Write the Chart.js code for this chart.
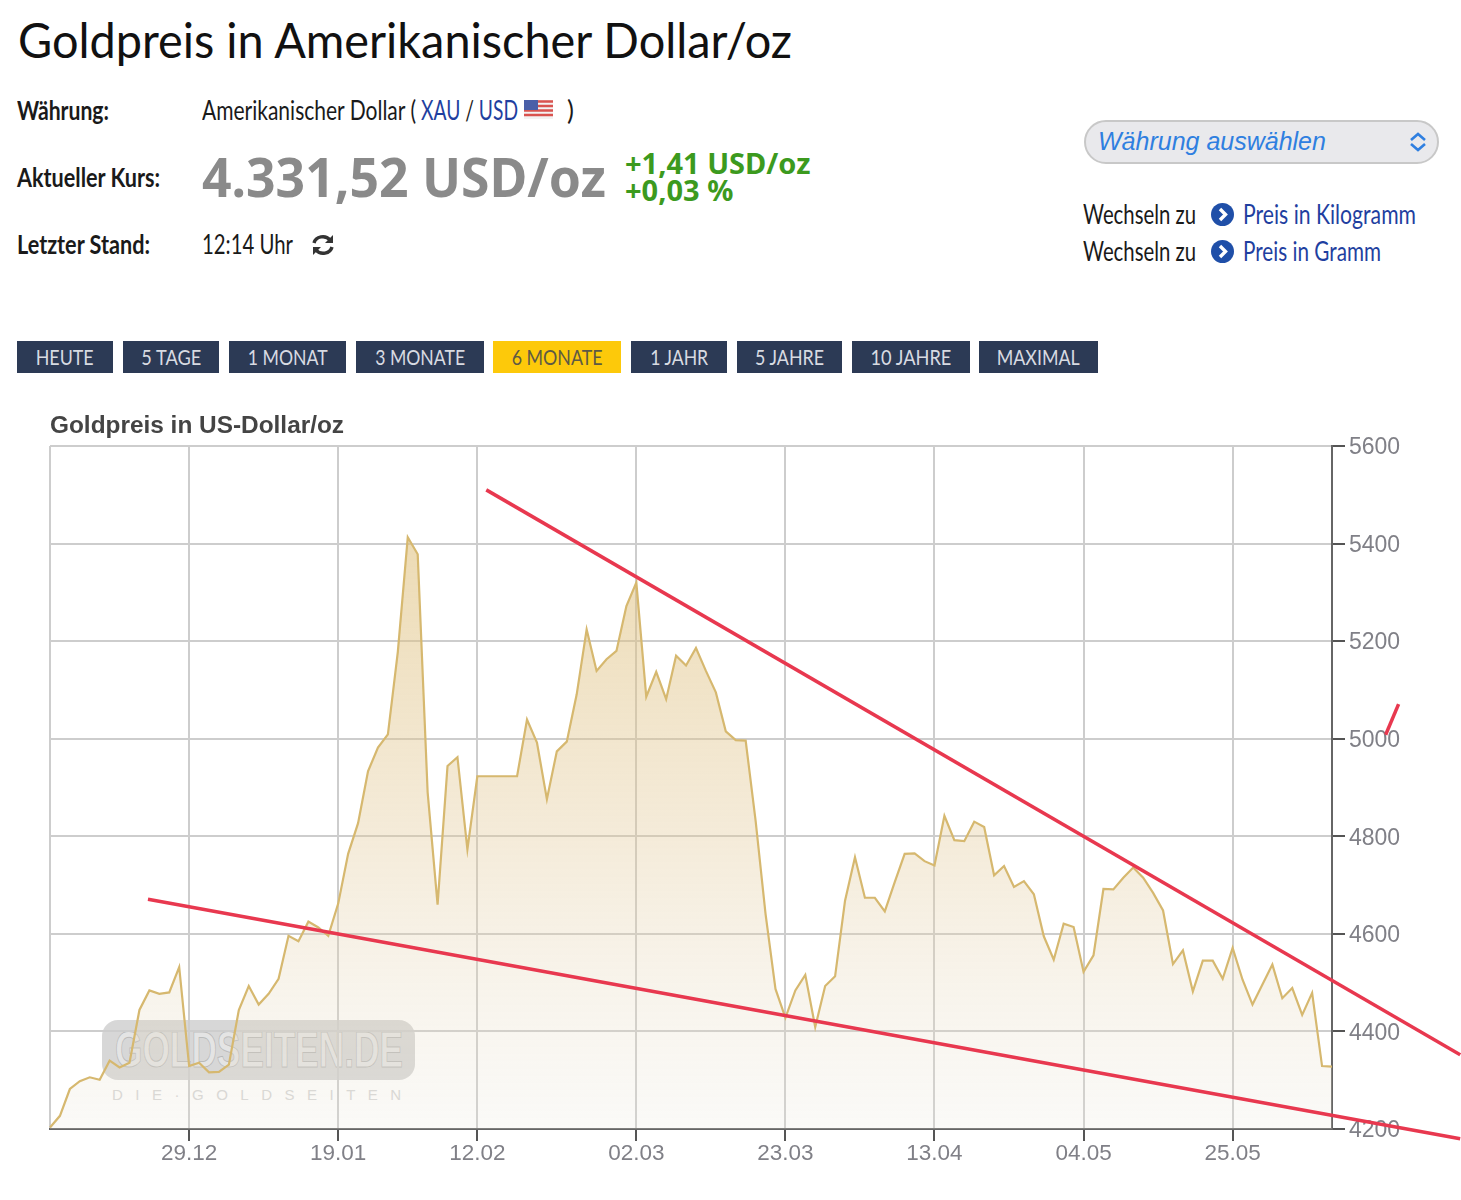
<!DOCTYPE html>
<html lang="de">
<head>
<meta charset="utf-8">
<title>Goldpreis</title>
<script src="https://cdn.jsdelivr.net/npm/chart.js@4"></script>
<style>
  html, body { margin: 0; padding: 0; background: #fff; }
  #seite { position: relative; width: 1461px; height: 1200px; overflow: hidden; font-family: Lato, sans-serif; color: #1a1a1a; }
  #seite > * { position: absolute; white-space: nowrap; }
  [data-w] { transform-origin: left center; }
  h1 { margin: 0; left: 18px; top: 10px; font: 400 49px/58px Lato, sans-serif; color: #111; }
  .label { left: 17px; font-size: 26px; font-weight: 700; line-height: 30px; }
  .text { font-size: 26px; line-height: 30px; }
  a { color: #1f3fa0; text-decoration: none; }
  #kurs { left: 202px; top: 143px; font: 700 54px/66px "Noto Sans", sans-serif; color: #8a8a8a; }
  #diff { left: 625px; top: 149px; font: 700 29px/27px "Noto Sans", sans-serif; color: #3c9a1e; }
  .btn { top: 341px; height: 32px; line-height: 32px; background: #2c3a55; color: #d8dbe2; font-size: 22px; text-align: center; }
  .btn span { display: inline-block; transform-origin: center; }
  .btn.aktiv { background: #fdc90a; color: #5d5a45; }
  #auswahl { left: 1084px; top: 120px; width: 351px; height: 40px; border: 2px solid #c8c8c8; border-radius: 22px; background: #e9e9ec; color: #2f7fe0; font: italic 25px/38px "Liberation Sans", sans-serif; text-indent: 12px; }
  #wm { left: 102px; top: 1020px; width: 313px; height: 60px; border-radius: 16px; background: rgba(160,160,160,.42); color: rgba(238,238,238,.6); font: 700 50px/60px "Liberation Sans", sans-serif; -webkit-text-stroke: 1px rgba(120,120,120,.35); }
  #wm span { display: inline-block; margin-left: 13px; }
  #wm2 { left: 112px; top: 1087px; font: 15px/16px "Liberation Sans", sans-serif; letter-spacing: 12.5px; color: #d6d6d6; }
  canvas { left: 0; top: 405px; z-index: 1; }
</style>
</head>
<body>
<div id="seite">
  <h1 data-w="774">Goldpreis in Amerikanischer Dollar/oz</h1>

  <div class="label" data-w="92" style="top:95px">Währung:</div>
  <div class="text" data-w="214" style="left:202px;top:95px">Amerikanischer Dollar (</div>
  <div class="text" data-w="97" style="left:421px;top:95px"><a>XAU</a> / <a>USD</a></div>
  <svg style="left:524px;top:100px" width="29" height="19" viewBox="0 0 29 19">
    <rect width="29" height="19" fill="#f3f3f3"/>
    <path d="M0 1.5h29M0 6h29M0 10.5h29M0 15h29" stroke="#d9534f" stroke-width="2.6"/>
    <rect width="14" height="10" fill="#4a5fa8"/>
  </svg>
  <div class="text" style="left:567px;top:95px">)</div>

  <div class="label" data-w="143" style="top:162px">Aktueller Kurs:</div>
  <div id="kurs" data-w="404">4.331,52 USD/oz</div>
  <div id="diff">+1,41 USD/oz<br>+0,03 %</div>

  <div class="label" data-w="133" style="top:229px">Letzter Stand:</div>
  <div class="text" data-w="91" style="left:202px;top:229px">12:14 Uhr</div>
  <svg style="left:311px;top:233px" width="24" height="24" viewBox="0 0 24 24" fill="none" stroke="#333" stroke-width="3.4">
    <path d="M3 10a9 8 0 0 1 16-3"/><path d="M21 14a9 8 0 0 1-16 3"/>
    <path d="M22 2v8h-8z" fill="#333" stroke="none"/><path d="M2 22v-8h8z" fill="#333" stroke="none"/>
  </svg>

  <div id="auswahl">Währung auswählen</div>
  <svg style="left:1408px;top:131px" width="20" height="22" viewBox="0 0 20 22" fill="none" stroke="#2f7fe0" stroke-width="2.6">
    <path d="M3 9l7-6 7 6M3 13l7 6 7-6"/>
  </svg>

  <div class="text" data-w="113" style="left:1083px;top:199px">Wechseln zu</div>
  <svg style="left:1211px;top:203px" width="23" height="23" viewBox="0 0 23 23">
    <circle cx="11.5" cy="11.5" r="11.5" fill="#1f4fa8"/><path d="M9 6l5.5 5.5L9 17" fill="none" stroke="#fff" stroke-width="3.4"/>
  </svg>
  <div class="text" data-w="173" style="left:1243px;top:199px"><a>Preis in Kilogramm</a></div>

  <div class="text" data-w="113" style="left:1083px;top:236px">Wechseln zu</div>
  <svg style="left:1211px;top:240px" width="23" height="23" viewBox="0 0 23 23">
    <circle cx="11.5" cy="11.5" r="11.5" fill="#1f4fa8"/><path d="M9 6l5.5 5.5L9 17" fill="none" stroke="#fff" stroke-width="3.4"/>
  </svg>
  <div class="text" data-w="138" style="left:1243px;top:236px"><a>Preis in Gramm</a></div>

  <div class="btn" style="left:17px;width:96px"><span data-w="58">HEUTE</span></div>
  <div class="btn" style="left:123px;width:96px"><span data-w="60">5 TAGE</span></div>
  <div class="btn" style="left:229px;width:117px"><span data-w="80">1 MONAT</span></div>
  <div class="btn" style="left:356px;width:128px"><span data-w="90">3 MONATE</span></div>
  <div class="btn aktiv" style="left:493px;width:128px"><span data-w="91">6 MONATE</span></div>
  <div class="btn" style="left:631px;width:96px"><span data-w="58">1 JAHR</span></div>
  <div class="btn" style="left:737px;width:105px"><span data-w="69">5 JAHRE</span></div>
  <div class="btn" style="left:852px;width:118px"><span data-w="81">10 JAHRE</span></div>
  <div class="btn" style="left:979px;width:119px"><span data-w="83">MAXIMAL</span></div>

  <div id="wm"><span data-w="288">GOLDSEITEN.DE</span></div>
  <div id="wm2">DIE·GOLDSEITEN</div>

  <canvas id="chart" width="1461" height="775"></canvas>
</div>

<script>
// Kurs je Handelstag
const preise = [4203,4227,4282,4298,4306,4301,4340,4326,4336,4444,4484,4477,4480,4532,4329,4336,4316,4317,4332,4444,
  4493,4455,4477,4508,4596,4585,4625,4613,4596,4662,4764,4827,4933,4982,5009,5178,5413,5378,4890,4660,
  4944,4962,4773,4923,4923,4923,4923,4923,5039,4992,4876,4974,4994,5091,5224,5139,5163,5180,5272,5320,
  5086,5137,5081,5170,5150,5186,5139,5095,5015,4997,4996,4832,4641,4487,4428,4484,4516,4409,4493,4513,
  4668,4757,4674,4674,4646,4706,4764,4765,4749,4740,4842,4792,4790,4830,4819,4720,4739,4696,4708,4681,
  4595,4547,4621,4614,4522,4556,4692,4691,4715,4736,4715,4684,4648,4538,4566,4482,4545,4545,4508,4571,
  4506,4455,4496,4537,4468,4489,4434,4479,4329,4328];

const tickTage = [14, 29, 43, 59, 74, 89, 104, 119];
const tickLabels = ['29.12', '19.01', '12.02', '02.03', '23.03', '13.04', '04.05', '25.05'];

// Trendlinien (eingezeichnet), gehen über den Plot hinaus
const trendObenX = [43.9, 141.9];
const trendObenY = [5510, 4352];
const trendUntenX = [9.86, 141.9];
const trendUntenY = [4671, 4180];
const trendRestX = [134.4, 135.7];
const trendRestY = [5008, 5071];

// schmale Schrift gibt es nicht, also auf die Breite aus dem Bild stauchen
document.querySelectorAll('[data-w]').forEach(el => {
  el.style.transform = 'scaleX(' + el.dataset.w / el.getBoundingClientRect().width + ')';
});

function punkte(xs, ys) {
  return xs.map((x, i) => ({ x: x, y: ys[i] }));
}

function flaeche(ctx) {
  const area = ctx.chart.chartArea;
  if (!area) return 'transparent';
  const g = ctx.chart.ctx.createLinearGradient(0, area.top + 100, 0, area.bottom);
  g.addColorStop(0, 'rgba(222,190,120,0.55)');
  g.addColorStop(0.5, 'rgba(226,200,150,0.36)');
  g.addColorStop(1, 'rgba(232,228,216,0.2)');
  return g;
}

const rot = { borderColor: '#e8384f', borderWidth: 3.5, pointRadius: 0, clip: false, fill: false };

new Chart(document.getElementById('chart'), {
  type: 'line',
  data: {
    // erster Datensatz liegt beim Zeichnen oben
    datasets: [
      { data: punkte(trendObenX, trendObenY), ...rot },
      { data: punkte(trendUntenX, trendUntenY), ...rot },
      { data: punkte(trendRestX, trendRestY), ...rot },
      { data: preise.map((v, i) => ({ x: i, y: v })), borderColor: '#d6b86f', borderWidth: 2.2, pointRadius: 0, tension: 0, fill: 'start', backgroundColor: flaeche }
    ]
  },
  options: {
    responsive: false,
    animation: false,
    layout: { padding: { left: 50, right: 0, top: 0, bottom: 0 } },
    plugins: {
      legend: { display: false },
      tooltip: { enabled: false },
      title: {
        display: true,
        text: 'Goldpreis in US-Dollar/oz',
        align: 'start',
        color: '#444',
        font: { family: '"Liberation Sans"', size: 24.4, weight: 'bold' },
        padding: { top: 7, bottom: 4.7 }
      }
    },
    scales: {
      x: {
        type: 'linear',
        afterBuildTicks: s => {
          s.ticks = [0, ...tickTage].map(v => ({ value: v }));
          s.min = 0;
          s.max = preise.length - 1;
        },
        afterFit: s => { s.height = 51; },
        grid: {
          color: '#cdcdcd',
          lineWidth: 2,
          tickLength: 12,
          tickColor: ctx => (ctx.tick && ctx.tick.value === 0 ? 'transparent' : '#555')
        },
        border: { color: '#666', width: 2 },
        ticks: {
          autoSkip: false,
          maxRotation: 0,
          padding: -1,
          color: '#808087',
          font: { family: '"Liberation Sans"', size: 22.5 },
          callback: v => tickLabels[tickTage.indexOf(v)] || ''
        }
      },
      y: {
        position: 'right',
        min: 4200,
        max: 5600,
        afterFit: s => { s.width = 129; },
        grid: { color: '#cdcdcd', lineWidth: 2, tickLength: 13, tickColor: '#555' },
        border: { color: '#666', width: 2 },
        ticks: {
          stepSize: 200,
          padding: 4,
          labelOffset: 2,
          color: '#808087',
          font: { family: '"Liberation Sans"', size: 23 },
          callback: v => String(v)
        }
      }
    }
  }
});
</script>
</body>
</html>
